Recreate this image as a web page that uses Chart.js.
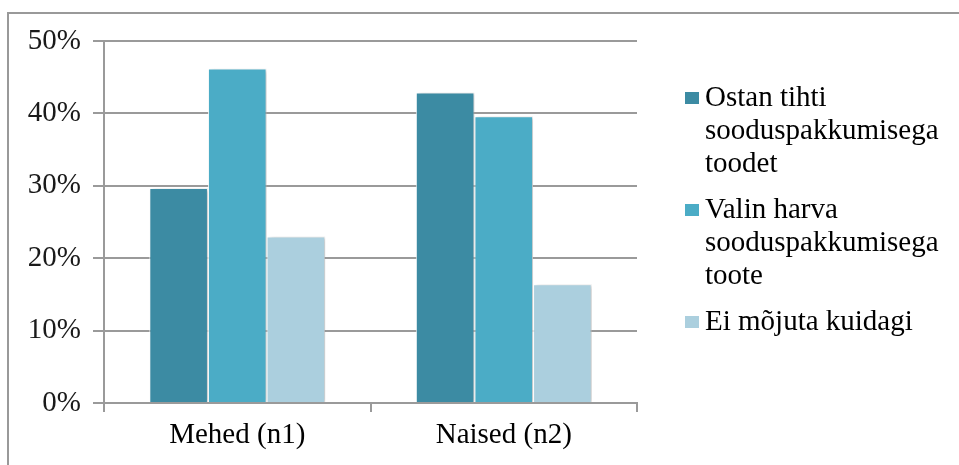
<!DOCTYPE html>
<html>
<head>
<meta charset="utf-8">
<script src="https://cdn.jsdelivr.net/npm/chart.js@4"></script>
<style>
    html, body { margin: 0; padding: 0; background: #fff; }
    #wrap { position: relative; width: 959px; height: 465px; overflow: hidden; }
    #frame { position: absolute; left: 7px; top: 12px; width: 1000px; height: 500px;
             border-top: 2px solid #999; border-left: 2px solid #999; }
    #showGraph { position: absolute; left: 0; top: 0; }
    #legend { position: absolute; left: 685px; top: 80px; width: 260px;
              font-family: "Liberation Serif", "Times New Roman", serif; font-size: 29px;
              line-height: 33px; color: #000; }
    #legend .item { display: flex; align-items: flex-start; margin-bottom: 13px; }
    #legend .box { flex: none; width: 14px; height: 12px; margin-top: 12px; margin-right: 6px; }
</style>
</head>
<body>
<div id="wrap">
    <div id="frame"></div>
    <canvas id="showGraph" width="959" height="465"></canvas>
    <div id="legend"></div>
</div>
<script>
var labels = ['Mehed (n1)', 'Naised (n2)'];
var seriesNames = ['Ostan tihti sooduspakkumisega toodet', 'Valin harva sooduspakkumisega toote', 'Ei mõjuta kuidagi'];
var ostanTihti = [29.7, 42.9];
var valinHarva = [46.2, 39.6];
var eiMojuta = [23.0, 16.4];
var yTicks = [0, 10, 20, 30, 40, 50];

var colors = ['#3c8ba3', '#4bacc6', '#abcfde'];
var gridColor = '#9a9a9a';

Chart.defaults.font.family = '"Liberation Serif", "Times New Roman", serif';
Chart.defaults.font.size = 29;
Chart.defaults.color = '#000';

var barShadow = {
    id: 'barShadow',
    beforeDatasetsDraw: function (chart) {
        var ctx = chart.ctx;
        ctx.save();
        ctx.shadowColor = 'rgba(0, 0, 0, 0.22)';
        ctx.shadowBlur = 4;
        ctx.shadowOffsetX = 3;
        ctx.shadowOffsetY = 1;
    },
    afterDatasetsDraw: function (chart) {
        chart.ctx.restore();
    }
};

var datasets = [ostanTihti, valinHarva, eiMojuta].map(function (values, i) {
    return {
        label: seriesNames[i],
        data: values,
        backgroundColor: colors[i],
        borderColor: 'rgba(255, 255, 255, 0.9)',
        borderWidth: 1,
        categoryPercentage: 0.66,
        barPercentage: 1.0
    };
});

var myChart = new Chart(document.querySelector('#showGraph').getContext('2d'), {
    type: 'bar',
    data: { labels: labels, datasets: datasets },
    plugins: [barShadow],
    options: {
        responsive: false,
        animation: false,
        layout: { padding: { top: 41, right: 322, left: 0, bottom: 0 } },
        plugins: {
            legend: { display: false },
            tooltip: { enabled: false }
        },
        scales: {
            x: {
                afterFit: function (scale) { scale.height = 62; },
                grid: { display: true, offset: true, drawOnChartArea: false, tickLength: 9, color: gridColor, lineWidth: 2 },
                border: { display: true, color: gridColor, width: 2 },
                ticks: { padding: 6 }
            },
            y: {
                min: 0,
                max: 50,
                afterFit: function (scale) { scale.width = 104; },
                afterBuildTicks: function (scale) {
                    scale.ticks = yTicks.map(function (v) { return { value: v }; });
                },
                grid: { color: gridColor, lineWidth: 2, tickLength: 11 },
                border: { display: true, color: gridColor, width: 2 },
                ticks: {
                    padding: 12,
                    color: '#1a1a1a',
                    callback: function (v) { return v + '%'; }
                }
            }
        }
    }
});

function buildLegend(chart) {
    var box = document.querySelector('#legend');
    box.innerHTML = '';
    chart.data.datasets.forEach(function (ds) {
        var item = document.createElement('div');
        item.className = 'item';
        var sw = document.createElement('span');
        sw.className = 'box';
        sw.style.background = ds.backgroundColor;
        var txt = document.createElement('span');
        txt.textContent = ds.label;
        item.appendChild(sw);
        item.appendChild(txt);
        box.appendChild(item);
    });
}
buildLegend(myChart);
</script>
</body>
</html>
